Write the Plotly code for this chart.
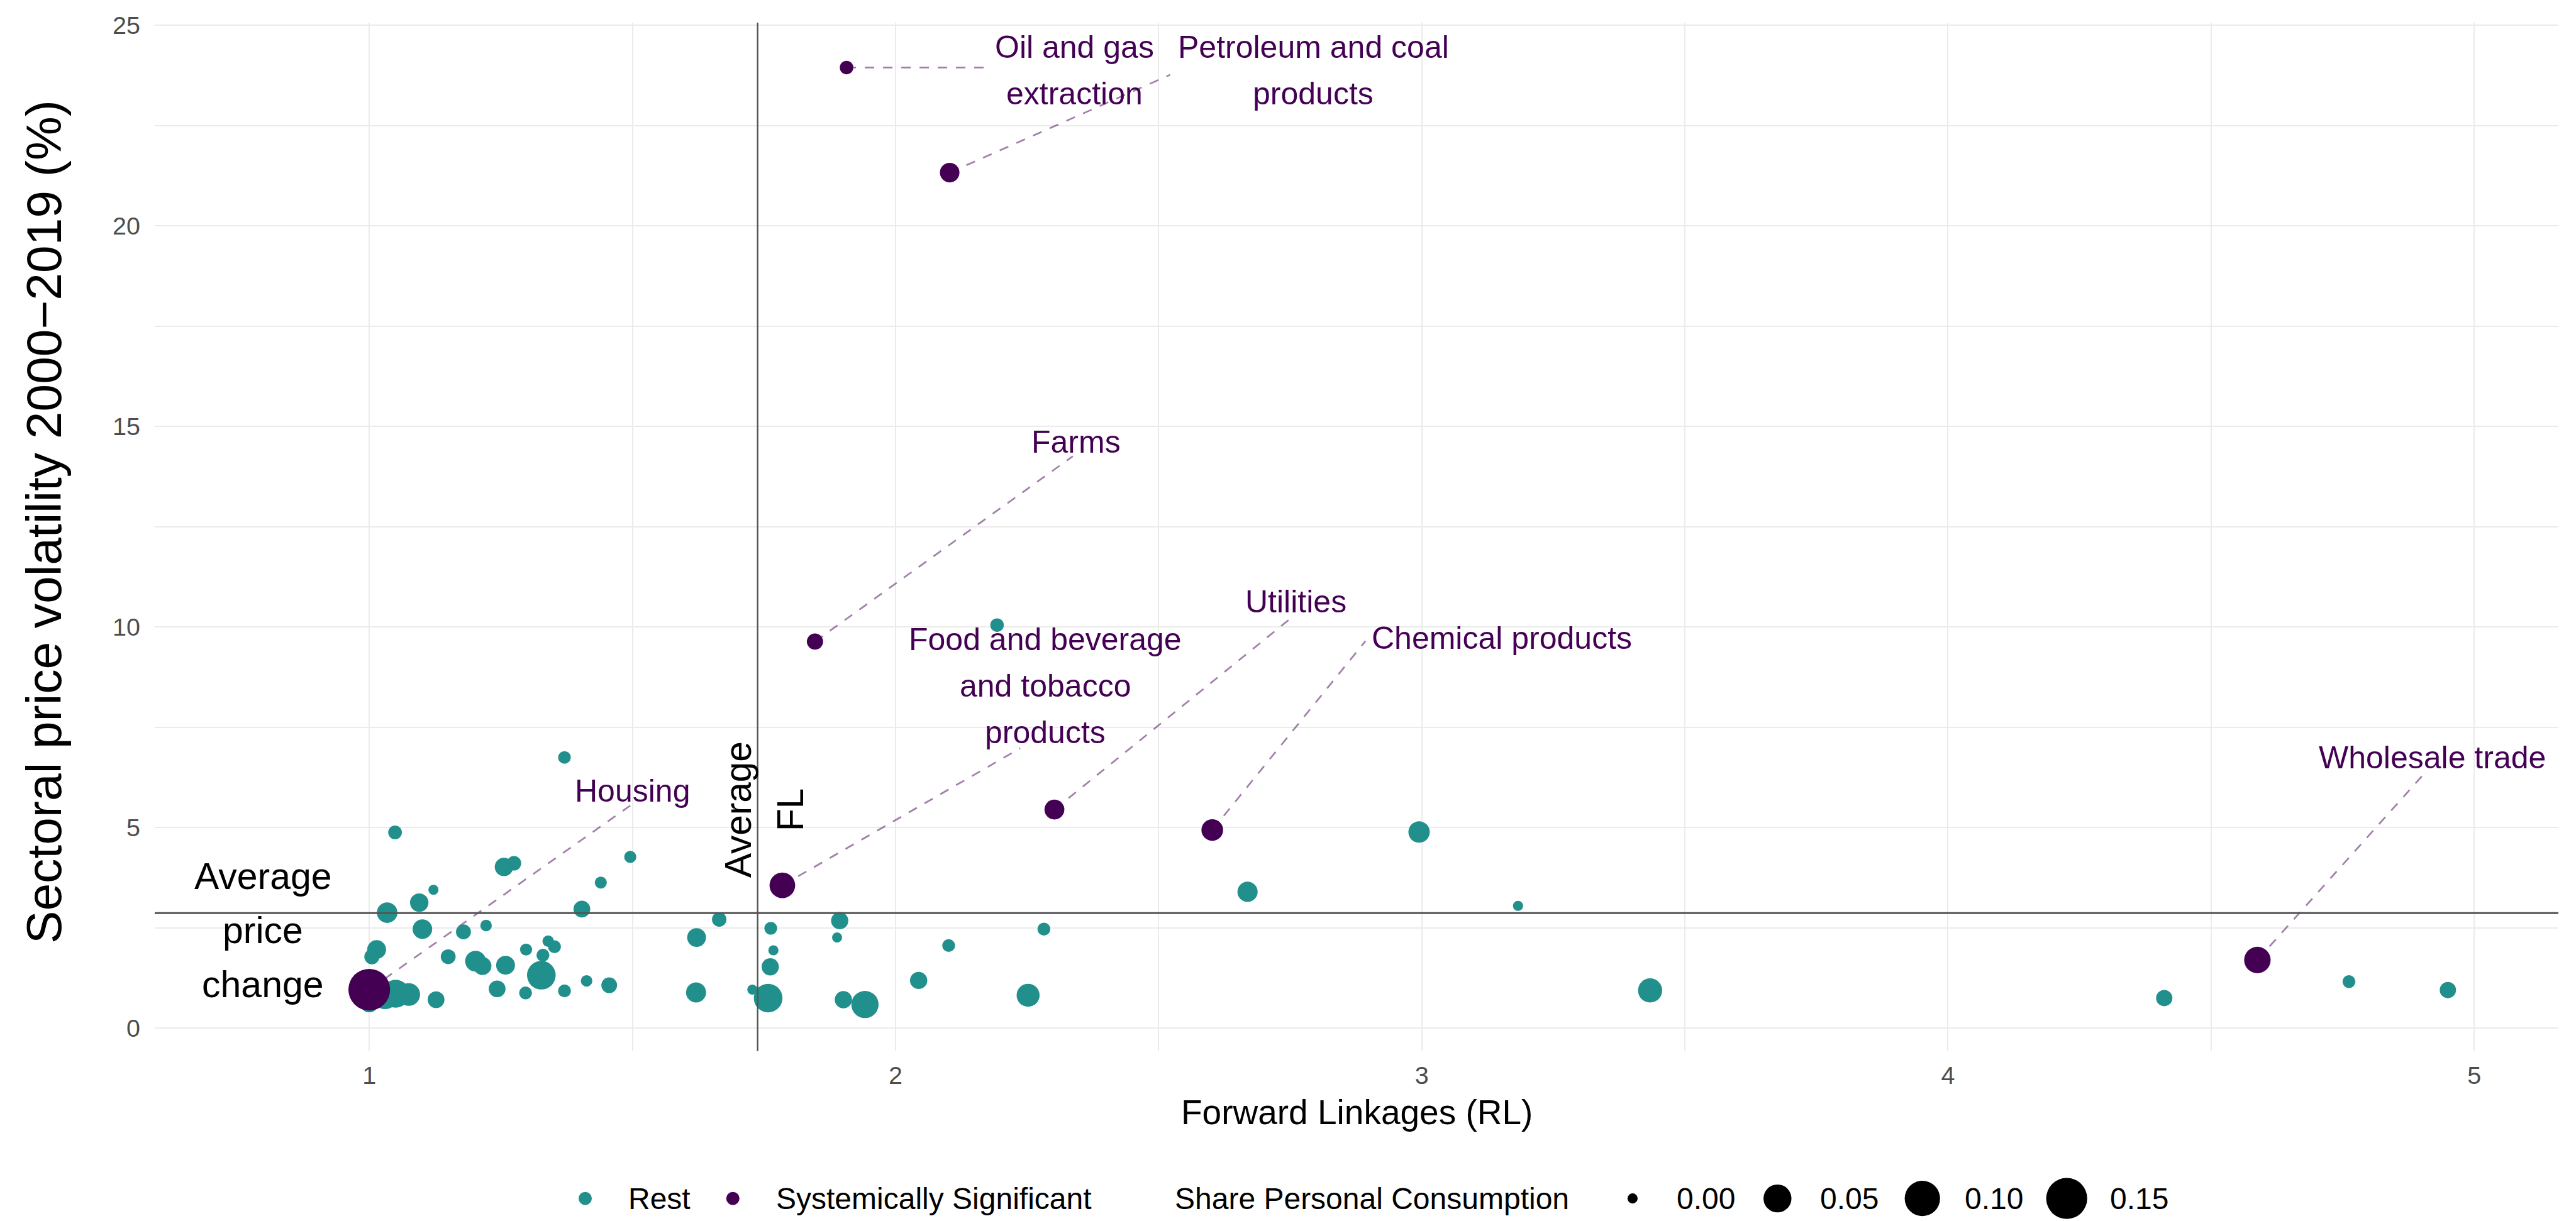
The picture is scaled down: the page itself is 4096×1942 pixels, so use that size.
import numpy as np
import plotly.graph_objects as go

# ---------------- data ----------------
# "Rest" sectors: forward linkages, price volatility (%), share of personal consumption
rest_fl = [1.371, 1.049, 1.256, 1.275, 1.496, 1.440, 1.122, 1.095, 1.034, 1.404,
           1.101, 1.179, 1.222, 1.665, 1.622, 1.014, 1.005, 1.150, 1.202, 1.215,
           1.259, 1.298, 1.340, 1.352, 1.330, 1.327, 1.243, 1.297, 1.371, 1.413,
           1.456, 1.621, 1.127, 1.050, 1.075, 1.030, 1.000,
           1.728, 1.758, 1.763, 1.768, 1.762, 1.894, 1.889, 1.901, 1.942, 2.044,
           2.101, 2.282, 2.252,
           2.193, 2.669, 2.995, 3.183, 3.434, 4.411, 4.762, 4.950]
rest_vol = [6.75, 4.88, 4.02, 4.11, 4.27, 3.63, 3.45, 3.13, 2.88, 2.97,
            2.47, 2.40, 2.56, 2.71, 2.26, 1.96, 1.78, 1.78, 1.67, 1.55,
            1.57, 1.96, 2.17, 2.03, 1.82, 1.32, 0.98, 0.88, 0.93, 1.18,
            1.07, 0.89, 0.71, 0.86, 0.84, 0.80, 0.62,
            0.96, 0.75, 2.49, 1.94, 1.53, 2.68, 2.26, 0.71, 0.59, 1.19,
            2.06, 2.47, 0.82,
            10.05, 3.40, 4.89, 3.05, 0.94, 0.75, 1.16, 0.95]
rest_share = [0.001, 0.002, 0.011, 0.003, 0.0006, 0.0006, 0.0, 0.011, 0.017, 0.007,
              0.014, 0.0036, 0.0003, 0.003, 0.012, 0.012, 0.004, 0.0036, 0.018, 0.010,
              0.012, 0.0006, 0.0003, 0.0012, 0.0012, 0.054, 0.007, 0.0012, 0.0012, 0.0003,
              0.005, 0.0155, 0.007, 0.050, 0.025, 0.040, 0.010,
              0.0, 0.054, 0.0012, 0.0, 0.008, 0.008, 0.0, 0.008, 0.046, 0.008,
              0.0012, 0.0012, 0.026,
              0.0018, 0.016, 0.020, 0.0, 0.031, 0.006, 0.0012, 0.006]

# Systemically significant sectors
sys_names = ["Housing", "Oil and gas\nextraction", "Petroleum and coal\nproducts", "Farms",
             "Food and beverage\nand tobacco\nproducts", "Utilities", "Chemical products",
             "Wholesale trade"]
sys_fl = [1.000, 1.907, 2.103, 1.847, 1.785, 2.302, 2.602, 4.588]
sys_vol = [0.96, 23.95, 21.33, 9.64, 3.56, 5.45, 4.94, 1.70]
sys_share = [0.157, 0.0018, 0.014, 0.006, 0.038, 0.015, 0.021, 0.042]
# repelled label centres and connector end points (data units)
label_x = [1.5005, 2.340, 2.794, 2.343, 2.285, 2.761, 3.152, 4.920]
label_y = [5.92, 23.88, 23.88, 14.61, 8.54, 10.63, 9.72, 6.74]
seg_end_x = [1.496, 2.175, 2.522, 2.337, 2.237, 2.754, 2.893, 4.906]
seg_end_y = [5.55, 23.95, 23.77, 14.26, 6.98, 10.25, 9.65, 6.36]

avg_fl = 1.738
avg_vol = 2.87

size_breaks = [0.00, 0.05, 0.10, 0.15]
size_break_labels = ["0.00", "0.05", "0.10", "0.15"]
group_labels = ["Rest", "Systemically Significant"]

# ---------------- style ----------------
S = 0.893
W, H = 4096, 1942
TEAL = "#21908C"
PURPLE = "#440154"
FONT = "Liberation Sans, Arial, Helvetica, sans-serif"
D_MIN, D_MAX, SHARE_MAX = 18 * S, 74.3 * S, 0.157


def diam(s):
    return D_MIN + (D_MAX - D_MIN) * np.sqrt(np.asarray(s, dtype=float) / SHARE_MAX)


ML, MR, MT, MB = 238, 36, 21, 10
plot_bottom_px = 1662.8
paper_h = H - MT - MB
y_dom0 = (H - MB - plot_bottom_px) / paper_h

fig = go.Figure()

# connector segments (under markers)
sx, sy = [], []
for px, py, ex, ey in zip(sys_fl, sys_vol, seg_end_x, seg_end_y):
    sx += [px, ex, None]
    sy += [py, ey, None]
fig.add_trace(go.Scatter(x=sx, y=sy, mode="lines", hoverinfo="skip", showlegend=False,
                         line=dict(color="rgba(68,1,84,0.5)", width=2.7, dash="15px,14px")))

fig.add_trace(go.Scatter(x=rest_fl, y=rest_vol, mode="markers", name="Rest", showlegend=False,
                         marker=dict(color=TEAL, size=diam(rest_share), line=dict(width=0),
                                     opacity=1)))
fig.add_trace(go.Scatter(x=sys_fl, y=sys_vol, mode="markers", name="Systemically Significant",
                         showlegend=False,
                         marker=dict(color=PURPLE, size=diam(sys_share), line=dict(width=0),
                                     opacity=1)))

annotations = []
# sector labels
LBL_SP = 74
for name, lx, ly in zip(sys_names, label_x, label_y):
    lines = name.split("\n")
    n = len(lines)
    for i, ln in enumerate(lines):
        annotations.append(dict(x=lx, y=ly, xref="x", yref="y", text=ln, showarrow=False,
                                xanchor="center", yanchor="middle",
                                yshift=((n - 1) / 2 - i) * LBL_SP,
                                font=dict(family=FONT, size=50, color=PURPLE)))

# average annotations
for i, ln in enumerate(["Average", "price", "change"]):
    annotations.append(dict(x=0.798, y=2.44, xref="x", yref="y", text=ln, showarrow=False,
                            xanchor="center", yanchor="middle", yshift=(1 - i) * 86,
                            font=dict(family=FONT, size=59, color="black")))
for i, ln in enumerate(["Average", "FL"]):
    annotations.append(dict(x=1.7503, y=5.45, xref="x", yref="y", text=ln, showarrow=False,
                            textangle=-90, xanchor="center", yanchor="middle",
                            xshift=(i - 0.5) * 83,
                            font=dict(family=FONT, size=58.5, color="black")))

# axis titles
plot_w = W - ML - MR
annotations.append(dict(x=0.5, y=(H - MB - 1760.7) / paper_h, xref="paper", yref="paper",
                        text="Forward Linkages (RL)", showarrow=False, xanchor="center",
                        yanchor="middle", font=dict(family=FONT, size=55, color="black")))
annotations.append(dict(x=(62 - ML) / plot_w, y=(y_dom0 + 1) / 2, yshift=24,
                        xref="paper", yref="paper",
                        text="Sectoral price volatility 2000\u22122019 (%)", showarrow=False,
                        textangle=-90, xanchor="center", yanchor="middle",
                        font=dict(family=FONT, size=78.5, color="black")))

# ---------------- manual legend (bottom) ----------------
key_x = [922.5, 1157.3]
size_key_x = [2587.9, 2818.3, 3048.7, 3278.2]
key_text_x = [989.4, 1224.3]
size_text_x = [2655.8, 2884.4, 3113.9, 3345.2]
leg_x = key_x + size_key_x
leg_sizes = [21, 21] + list(diam(size_breaks))
leg_colors = [TEAL, PURPLE] + ["black"] * 4
fig.add_trace(go.Scatter(x=leg_x, y=[0] * len(leg_x), xaxis="x2", yaxis="y2", mode="markers",
                         hoverinfo="skip", showlegend=False, cliponaxis=False,
                         marker=dict(size=leg_sizes, color=leg_colors, opacity=1,
                                     line=dict(width=0))))
LEG_FONT = dict(family=FONT, size=48, color="black")
for tx, t in zip(key_text_x + [1858.3] + size_text_x,
                 group_labels + ["Share Personal Consumption"] + size_break_labels):
    annotations.append(dict(x=tx, y=0, xref="x2", yref="y2", text=t, showarrow=False,
                            xanchor="left", yanchor="middle", font=LEG_FONT))

leg_center_px = 1898
leg_paper = (H - MB - leg_center_px) / paper_h

shapes = [
    dict(type="line", xref="x", yref="y domain", x0=avg_fl, x1=avg_fl, y0=0, y1=1,
         line=dict(color="#555555", width=2.4), layer="above"),
    dict(type="line", xref="x domain", yref="y", x0=0, x1=1, y0=avg_vol, y1=avg_vol,
         line=dict(color="#555555", width=3.0), layer="above"),
]

GRID = "#EBEBEB"
fig.update_layout(
    width=W, height=H,
    margin=dict(l=ML, r=MR, t=MT, b=MB, pad=0),
    paper_bgcolor="white", plot_bgcolor="white",
    font=dict(family=FONT),
    showlegend=False,
    xaxis=dict(domain=[0, 1], range=[0.5923, 5.160], tickmode="array", tickvals=[1, 2, 3, 4, 5],
               ticktext=["1", "2", "3", "4", "5"], showgrid=True, gridcolor=GRID, gridwidth=2.2,
               minor=dict(tickmode="array", tickvals=[1.5, 2.5, 3.5, 4.5], showgrid=True,
                          gridcolor=GRID, gridwidth=2.0),
               zeroline=False, showline=False, ticks="", ticklabelstandoff=12,
               tickfont=dict(family=FONT, size=39.5, color="#4D4D4D"), anchor="y"),
    yaxis=dict(domain=[y_dom0, 1], range=[-0.572, 25.07], tickmode="array",
               tickvals=[0, 5, 10, 15, 20, 25], ticktext=["0", "5", "10", "15", "20", "25"],
               showgrid=True, gridcolor=GRID, gridwidth=2.2,
               minor=dict(tickmode="array", tickvals=[2.5, 7.5, 12.5, 17.5, 22.5], showgrid=True,
                          gridcolor=GRID, gridwidth=2.0),
               zeroline=False, showline=False, ticks="", ticklabelstandoff=22,
               tickfont=dict(family=FONT, size=39.5, color="#4D4D4D"), anchor="x"),
    xaxis2=dict(domain=[0, 1], range=[ML, W - MR], visible=False, anchor="y2"),
    yaxis2=dict(domain=[0, 2 * leg_paper], range=[-1, 1], visible=False, anchor="x2"),
    annotations=annotations,
    shapes=shapes,
)

fig.write_html("out.html")
